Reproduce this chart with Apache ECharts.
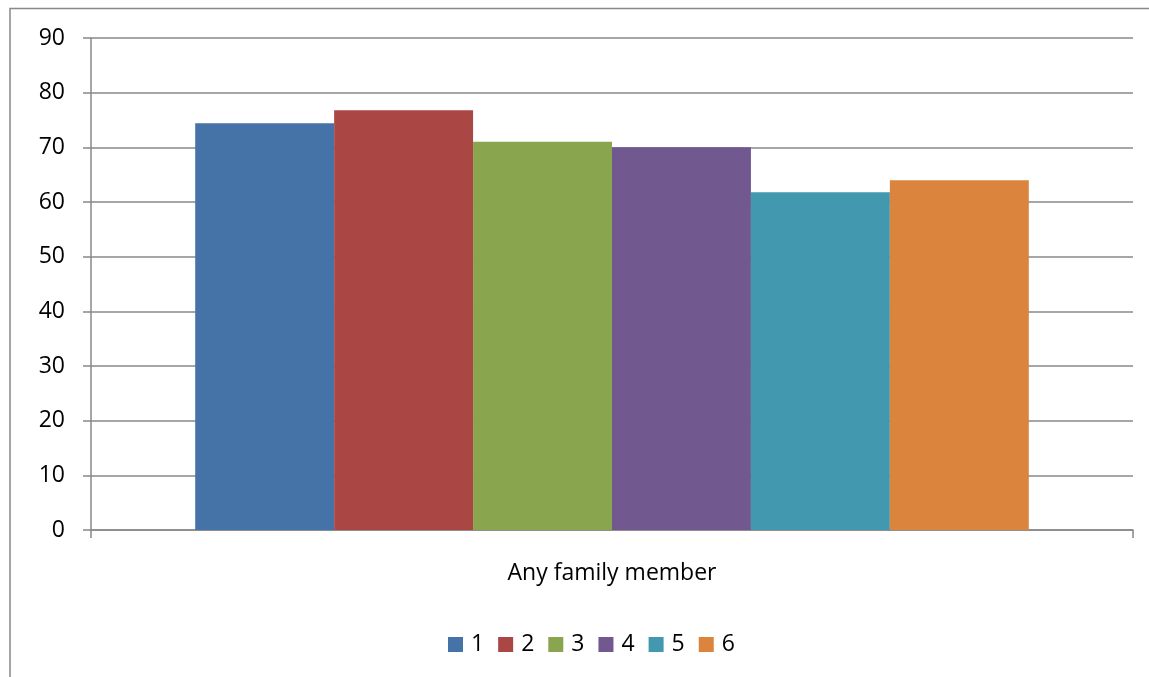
<!DOCTYPE html>
<html>
<head>
<meta charset="utf-8">
<style>
  html, body { margin: 0; padding: 0; background: #fff; }
  #chart-main { width: 1149px; height: 677px; }
</style>
<script src="https://cdn.jsdelivr.net/npm/echarts@6/dist/echarts.min.js"></script>
</head>
<body>
<div id="chart-main"></div>
<script>
// data
const categories = ['Any family member']
const seriesNames = ['1', '2', '3', '4', '5', '6']
const seriesValues = [74.4, 76.8, 71.0, 70.0, 61.8, 64.0]
const seriesColors = ['#4572A7', '#AA4643', '#89A54E', '#71588F', '#4198AF', '#DB843D']
const yTicks = { min: 0, max: 90, interval: 10 }

const font = '"Open Sans", "Noto Sans", sans-serif'
const gray = '#888888'

const myChart = echarts.init(document.getElementById('chart-main'))
myChart.setOption({
  animation: false,
  textStyle: { fontFamily: font },
  graphic: [
    {
      type: 'rect',
      shape: { x: 10, y: 8.5, width: 1300, height: 900 },
      style: { fill: 'none', stroke: gray, lineWidth: 1.5 },
      silent: true
    }
  ],
  grid: { left: 91, right: 16, top: 38, bottom: 147 },
  legend: {
    left: 443,
    top: 628,
    itemWidth: 15,
    itemHeight: 15,
    itemGap: 14,
    icon: 'rect',
    textStyle: { fontSize: 23, color: '#000', fontFamily: font, padding: [0, 0, 0, 3] },
    data: seriesNames
  },
  xAxis: {
    type: 'category',
    data: categories,
    axisLine: { lineStyle: { color: gray, width: 1.5 } },
    axisTick: { show: true, length: 8, lineStyle: { color: gray, width: 1.5 } },
    axisLabel: { fontSize: 23, color: '#000', margin: 32, fontFamily: font }
  },
  yAxis: {
    type: 'value',
    min: yTicks.min,
    max: yTicks.max,
    interval: yTicks.interval,
    axisLine: { show: true, lineStyle: { color: gray, width: 1.5 } },
    axisTick: { show: true, length: 8, lineStyle: { color: gray, width: 1.5 } },
    axisLabel: { fontSize: 23, color: '#000', margin: 26, fontFamily: font },
    splitLine: { lineStyle: { color: gray, width: 1.5 } }
  },
  series: seriesNames.map((name, i) => ({
    name: name,
    type: 'bar',
    data: [seriesValues[i]],
    itemStyle: { color: seriesColors[i] },
    barGap: '0%',
    barCategoryGap: '20%'
  }))
})
</script>
</body>
</html>
